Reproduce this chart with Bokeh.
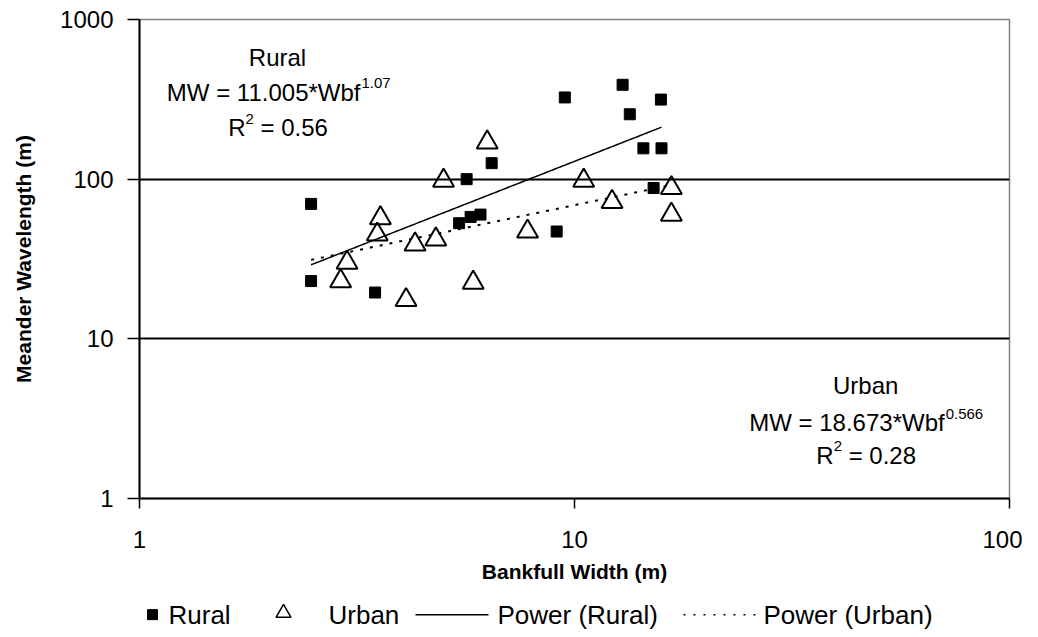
import numpy as np
from bokeh.plotting import figure
from bokeh.layouts import column
from bokeh.core.properties import value
from bokeh.models import (FixedTicker, NumeralTickFormatter, Label, Range1d)
from bokeh.embed import file_html
from bokeh.resources import INLINE

# ---- data ----
rural_x = [2.48, 2.48, 3.48, 5.43, 5.65, 5.77, 6.08, 6.45, 9.1, 9.5, 12.9, 13.4, 14.4, 15.2, 15.8, 15.85]
rural_y = [70, 23, 19.5, 53, 100, 58, 60, 126, 47, 325, 390, 255, 156, 88, 315, 156]
urban_x = [2.9, 3.0, 3.52, 3.58, 4.1, 4.3, 4.8, 5.0, 5.85, 6.3, 7.8, 10.5, 12.2, 16.7, 16.7]
urban_y = [23, 30, 45, 57, 17.5, 39, 42, 98, 22.5, 170, 47, 98, 72, 88, 60]

rural_coef, rural_exp, rural_r2 = 11.005, 1.07, 0.56
urban_coef, urban_exp, urban_r2 = 18.673, 0.566, 0.28

x_ticks = [1, 10, 100]
y_ticks = [1, 10, 100, 1000]
legend_labels = ["Rural", "Urban", "Power (Rural)", "Power (Urban)"]

FONT = "Liberation Sans"
DOT = "3 7"
LEFT, RIGHT = 139, 13

p = figure(frame_width=870, frame_height=479, x_axis_type="log", y_axis_type="log",
           x_range=(1, 100), y_range=(1, 1000),
           output_backend="svg", toolbar_location=None,
           min_border_left=LEFT, min_border_right=RIGHT, min_border_top=19, min_border_bottom=98)
p.background_fill_color = "white"
p.border_fill_color = "white"
p.outline_line_color = "#808080"
p.outline_line_width = 1.5

# trend lines
t_start = min(min(rural_x), min(urban_x))
tx_r = np.geomspace(min(rural_x), max(rural_x), 120)
tx_u = np.geomspace(t_start, max(urban_x), 120)
p.line(tx_r, rural_coef * tx_r ** rural_exp, line_color="black", line_width=1.5)
p.line(tx_u, urban_coef * tx_u ** urban_exp, line_color="black", line_width=2, line_dash=DOT)

p.scatter(rural_x, rural_y, marker="square", size=11, fill_color="black", line_color="black")
p.scatter(urban_x, urban_y, marker="triangle", size=21, fill_color=None,
          line_color="black", line_width=2)

# axes
for ax, ticks in ((p.xaxis[0], x_ticks), (p.yaxis[0], y_ticks)):
    ax.ticker = FixedTicker(ticks=ticks)
    ax.formatter = NumeralTickFormatter(format="0")
    ax.minor_tick_line_color = None
    ax.major_tick_in = 0
    ax.axis_line_color = "black"
    ax.axis_line_width = 2
    ax.major_tick_line_color = "black"
    ax.major_tick_line_width = 1.5
    ax.major_label_text_font = FONT
    ax.major_label_text_font_size = "24px"
    ax.major_label_text_color = "black"
    ax.axis_label_text_font = FONT
    ax.axis_label_text_font_style = "bold"
    ax.axis_label_text_font_size = "21px"
    ax.axis_label_text_color = "black"

p.xaxis[0].major_tick_out = 10
p.xaxis[0].major_label_standoff = 22
p.xaxis[0].axis_label = "Bankfull Width (m)"
p.xaxis[0].axis_label_standoff = 9
p.yaxis[0].major_tick_out = 12
p.yaxis[0].major_label_standoff = 14
p.yaxis[0].axis_label = "Meander Wavelength (m)"
p.yaxis[0].axis_label_standoff = 22

p.xgrid.grid_line_color = None
p.ygrid.ticker = FixedTicker(ticks=y_ticks)
p.ygrid.grid_line_color = "black"
p.ygrid.grid_line_width = 1.8

# equation annotations (positions in data space + pixel offsets)
def lab(x, y, text, xo=0, yo=0, align="center", size="24px"):
    p.add_layout(Label(x=x, y=y, text=text, x_offset=xo, y_offset=yo,
                       text_align=align, text_baseline="middle",
                       text_font=FONT, text_font_size=size, text_color="black"))

# Rural block
rx = 2.076
lab(rx, 577, "Rural")
lab(rx, 349, "MW = 11.005*Wbf", xo=83, align="right")
lab(rx, 349, "1.07", xo=84, yo=9, align="left", size="15px")
lab(rx, 210, "R", xo=-32, align="right")
lab(rx, 210, "2", xo=-32, yo=9, align="left", size="15px")
lab(rx, 210, "= 0.56", xo=-17, align="left")

# Urban block
ux = 46.7
lab(ux, 5.10, "Urban")
lab(ux, 2.99, "MW = 18.673*Wbf", xo=79, align="right")
lab(ux, 2.99, "0.566", xo=80, yo=9, align="left", size="15px")
lab(ux, 1.86, "R", xo=-32, align="right")
lab(ux, 1.86, "2", xo=-32, yo=9, align="left", size="15px")
lab(ux, 1.86, "= 0.28", xo=-17, align="left")

# ---- legend strip below the chart (x in canvas pixels) ----
W = 1022
leg = figure(width=W, height=33, x_range=Range1d(LEFT, W - RIGHT), y_range=Range1d(0, 1),
             x_axis_location=None, y_axis_location=None,
             output_backend="svg", toolbar_location=None,
             min_border_left=LEFT, min_border_right=RIGHT, min_border_top=0, min_border_bottom=0)
leg.outline_line_color = None
leg.xgrid.grid_line_color = None
leg.ygrid.grid_line_color = None
leg.background_fill_color = "white"
leg.border_fill_color = "white"

ly = 0.45
leg.scatter([152], [ly], marker="square", size=10, fill_color="black", line_color="black")
leg.scatter([283], [ly + 0.05], marker="triangle", size=15, fill_color=None,
            line_color="black", line_width=1.5)
leg.line([415, 488], [ly, ly], line_color="black", line_width=1.5)
leg.line([683, 757], [ly, ly], line_color="black", line_width=1.5, line_dash="2 8")
leg.text(x=[168, 328, 497, 763], y=[ly] * 4, text=legend_labels,
         text_font=value(FONT), text_font_size="26px", text_color="black",
         text_align="left", text_baseline="middle")

open("out.html", "w").write(file_html(column(p, leg, spacing=0), INLINE))
